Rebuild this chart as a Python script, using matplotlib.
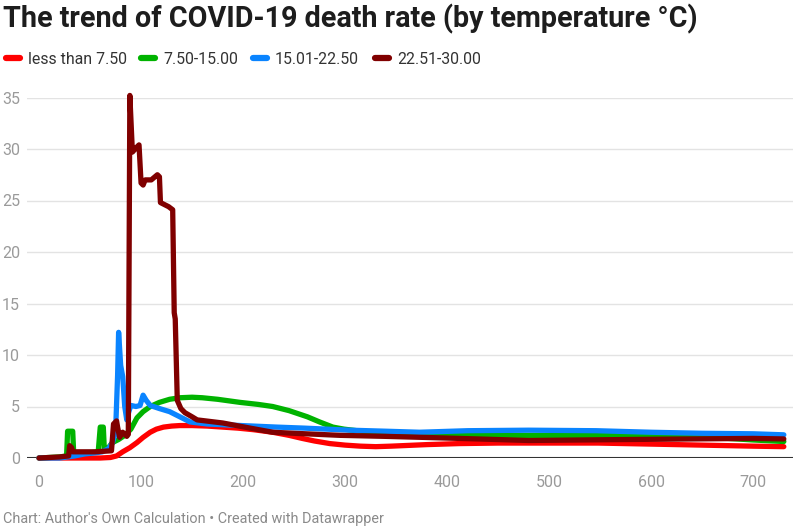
import matplotlib
matplotlib.use("Agg")
import matplotlib.pyplot as plt
from matplotlib.lines import Line2D

# ---------------- data ----------------
series_names = ["less than 7.50", "7.50-15.00", "15.01-22.50", "22.51-30.00"]
series_colors = ["#ff0000", "#00b300", "#0a84ff", "#800000"]

red_x = [0, 20, 40, 60, 70, 76, 82, 89, 96, 102, 109, 115, 122, 130, 138, 150, 165, 180,
         195, 210, 229, 245, 258, 270, 285, 300, 315, 330, 345, 380, 412, 450, 500, 548,
         600, 650, 700, 730]
red_y = [0, 0, 0, 0, 0.05, 0.2, 0.6, 1.0, 1.5, 2.0, 2.5, 2.8, 3.0, 3.1, 3.15, 3.15, 3.1,
         3.0, 2.9, 2.75, 2.5, 2.2, 1.9, 1.65, 1.4, 1.25, 1.15, 1.1, 1.15, 1.3, 1.4, 1.45,
         1.45, 1.45, 1.35, 1.25, 1.15, 1.1]

green_x = [0, 10, 20, 27, 28, 33, 34, 40, 50, 58, 60, 61, 63, 64, 68, 72, 78, 84, 90, 96,
           102, 109, 118, 128, 138, 150, 160, 175, 197, 215, 229, 245, 263, 275, 288, 299,
           320, 343, 377, 420, 480, 550, 617, 660, 700, 730]
green_y = [0, 0.05, 0.1, 0.2, 2.6, 2.6, 0.4, 0.4, 0.5, 0.6, 3.0, 3.0, 3.0, 0.8, 1.0, 1.5,
           1.8, 2.2, 2.8, 3.9, 4.5, 5.0, 5.4, 5.7, 5.85, 5.9, 5.85, 5.7, 5.4, 5.2, 5.0, 4.6,
           4.0, 3.5, 3.0, 2.8, 2.55, 2.4, 2.3, 2.2, 2.2, 2.2, 2.15, 2.0, 1.75, 1.6]

blue_x = [0, 20, 35, 45, 55, 62, 68, 72, 75, 77, 78, 80, 82, 84, 86, 88, 90, 95, 99, 102,
          105, 109, 118, 128, 138, 148, 165, 187, 210, 233, 260, 305, 340, 373, 420, 480,
          546, 600, 650, 700, 730]
blue_y = [0, 0, 0.2, 0.4, 0.5, 0.6, 0.9, 1.5, 2.5, 8.0, 12.2, 9.0, 7.9, 5.0, 3.7, 4.5,
          5.1, 5.0, 5.1, 6.1, 5.6, 5.1, 4.8, 4.5, 4.0, 3.5, 3.3, 3.2, 3.1, 3.0, 2.9, 2.7,
          2.6, 2.5, 2.65, 2.7, 2.65, 2.5, 2.4, 2.35, 2.25]

dred_x = [0, 20, 29, 30, 32, 33, 40, 55, 71, 73, 76, 77, 79, 82, 86, 87.5, 89, 91.5, 96,
          98, 100, 102, 104, 110, 116, 118, 119, 127, 131, 132.5, 133.5, 135.5, 139, 143,
          150, 155, 180, 207, 229, 250, 295, 340, 377, 430, 480, 530, 582, 640, 700, 730]
dred_y = [0, 0.1, 0.2, 1.2, 1.0, 0.6, 0.6, 0.6, 0.7, 3.3, 3.6, 3.0, 2.0, 2.5, 2.1, 2.3,
          35.2, 29.7, 30.2, 30.4, 26.7, 26.5, 27.0, 27.0, 27.5, 27.3, 24.8, 24.4, 24.1, 14.1,
          13.5, 5.6, 4.8, 4.4, 4.0, 3.7, 3.4, 2.9, 2.5, 2.4, 2.2, 2.1, 2.0, 1.85, 1.7, 1.75,
          1.8, 1.85, 1.9, 1.85]

x_ticks = [0, 100, 200, 300, 400, 500, 600, 700]
y_ticks = [0, 5, 10, 15, 20, 25, 30, 35]

title = "The trend of COVID-19 death rate (by temperature °C)"
footer = "Chart: Author's Own Calculation \u2022 Created with Datawrapper"

# ---------------- figure ----------------
plt.rcParams["font.family"] = ["Roboto", "DejaVu Sans"]
W, H = 796, 530
fig = plt.figure(figsize=(W / 100, H / 100), dpi=100)

def fx(px):
    return px / W

def fy(py):
    return 1 - py / H

ax_left, ax_right, ax_top, ax_bottom = 27, 793, 97.5, 458
ax = fig.add_axes([fx(ax_left), fy(ax_bottom), fx(ax_right - ax_left), (ax_bottom - ax_top) / H])

all_x = [red_x, green_x, blue_x, dred_x]
all_y = [red_y, green_y, blue_y, dred_y]
for xs, ys, c in zip(all_x, all_y, series_colors):
    ax.plot(xs, ys, color=c, lw=3.8, solid_joinstyle="round", solid_capstyle="round",
            clip_on=False, zorder=3)

ax.set_xlim(-11.8, 739)
ax.set_ylim(0, 35)
ax.set_xticks(x_ticks)
ax.set_yticks(y_ticks)
ax.set_xticklabels([str(t) for t in x_ticks])
ax.set_yticklabels([str(t) for t in y_ticks])
ax.tick_params(axis="both", length=0, labelsize=11.5, labelcolor="#9a9a9a")
ax.tick_params(axis="y", pad=5)
ax.tick_params(axis="x", pad=12)
for s in ax.spines.values():
    s.set_visible(False)
ax.grid(axis="y", color="#e3e3e3", lw=1)
ax.grid(axis="x", visible=False)
ax.set_axisbelow(True)
ax.axhline(0, color="#333333", lw=1.5, zorder=2)
ax.set_facecolor("none")

# title
fig.text(fx(3), fy(19), title, fontsize=20.7, fontweight="bold", color="#1d1d1d",
         va="center", ha="left")

# legend
leg_patch_x = [3, 138, 250, 372]
leg_y = 59
for name, c, px in zip(series_names, series_colors, leg_patch_x):
    fig.add_artist(Line2D([fx(px + 3), fx(px + 17)], [fy(leg_y - 1), fy(leg_y - 1)],
                          color=c, lw=4.5, solid_capstyle="round", transform=fig.transFigure))
    fig.text(fx(px + 25), fy(leg_y), name, fontsize=11.4, color="#333333",
             va="center", ha="left")

# footer
fig.text(fx(3), fy(519), footer, fontsize=10.4, color="#8a8a8a", va="center", ha="left")

fig.savefig("out.png", dpi=100)
